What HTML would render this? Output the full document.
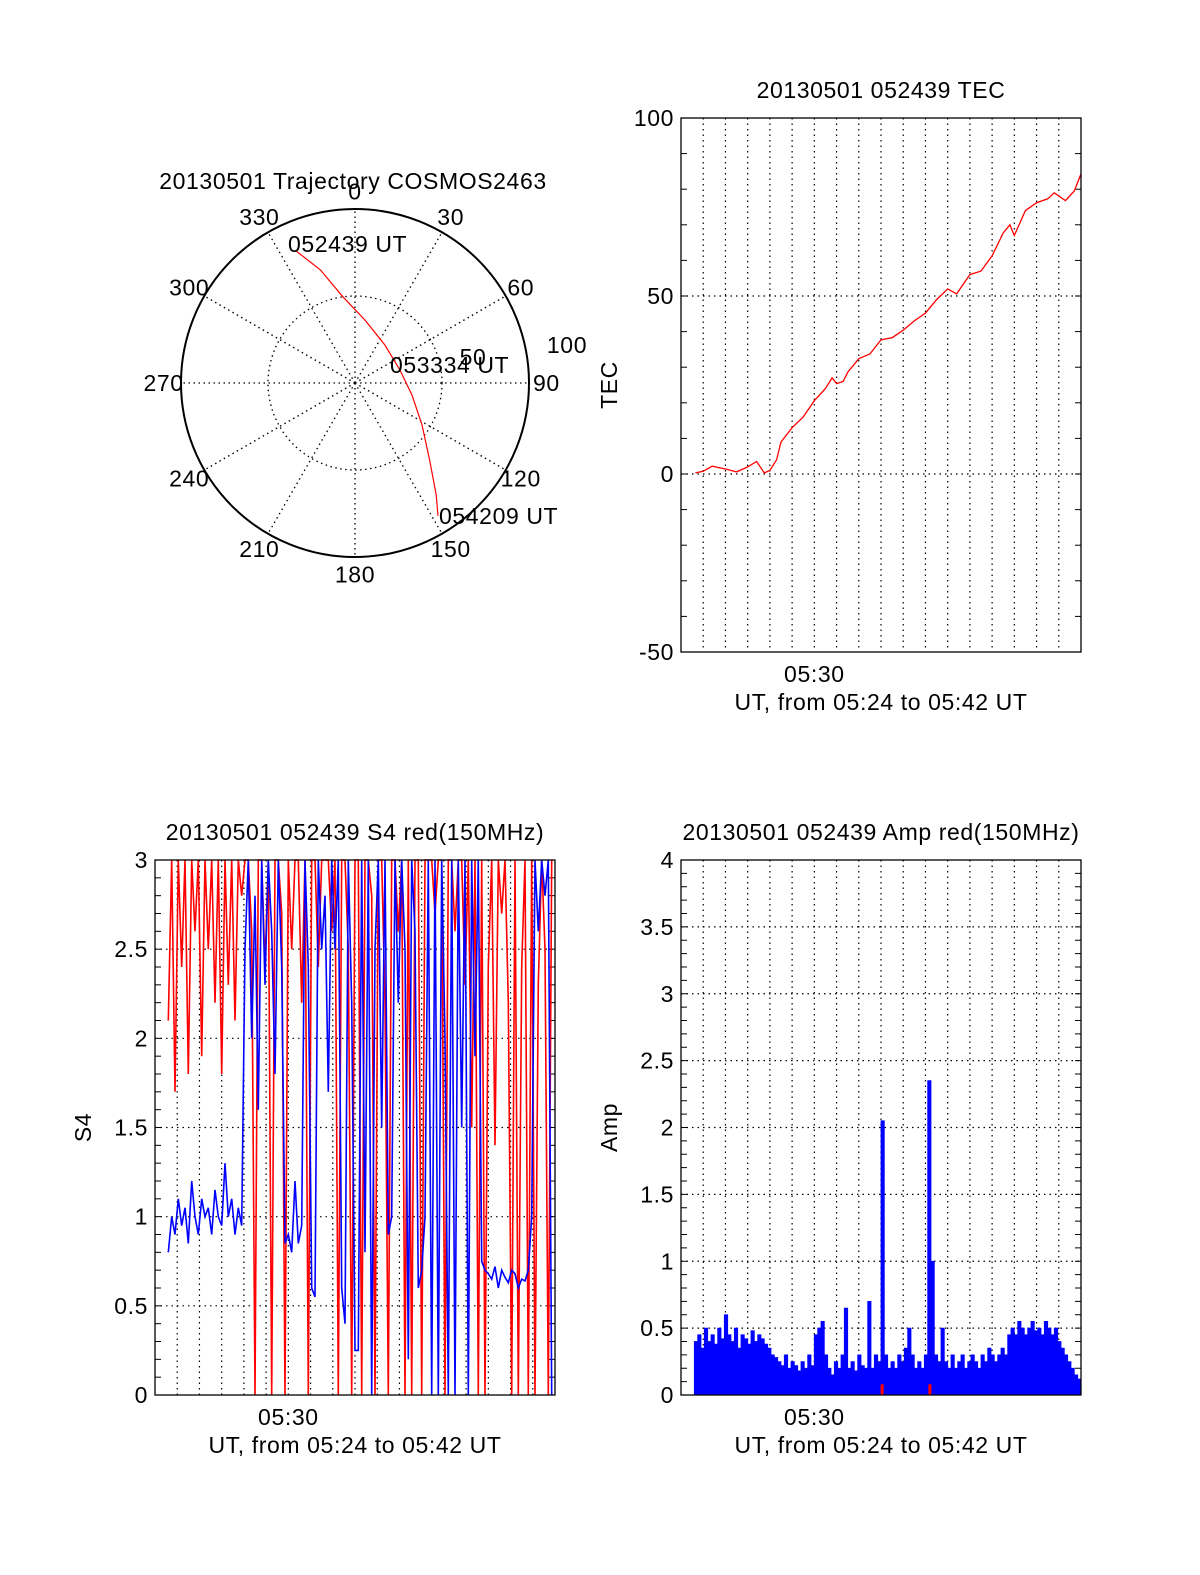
<!DOCTYPE html>
<html><head><meta charset="utf-8">
<style>
html,body{margin:0;padding:0;background:#fff;overflow:hidden;width:1200px;height:1575px}
svg{display:block}
svg text{font-family:"Liberation Sans",sans-serif;font-size:23px;letter-spacing:0.6px;fill:#000}
</style></head>
<body>
<svg id="root" width="1200" height="1575" viewBox="0 0 1200 1575" xmlns="http://www.w3.org/2000/svg">
<rect width="1200" height="1575" fill="#fff"/>
<g id="polar"></g>
<g id="tec"></g>
<g id="s4"></g>
<g id="amp"></g>
</svg>
<script>
// ---- data ----
const trajAz = [336,343,352,9,38,74,102,122,136,144,148];
const trajR  = [83,68,50,36.6,27.8,26.9,33.5,45.4,61.8,79.4,90];
const polarAngleLabels = [0,30,60,90,120,150,180,210,240,270,300,330];

const tecTimes = [0.65,1.0,1.4,2.0,2.5,3.0,3.4,3.75,4.0,4.3,4.5,5.0,5.5,6.0,6.5,6.8,7.0,7.3,7.5,8.0,8.5,9.0,9.5,10.0,10.5,11.0,11.5,12.0,12.4,13.0,13.5,14.0,14.5,14.8,15.0,15.5,16.0,16.5,16.8,17.3,17.7,18.0];
const tecValues = [0.3,0.8,2.2,1.4,0.6,2.0,3.5,0.3,1.0,4.0,9.0,13.0,16.0,20.6,24.0,27.0,25.4,26.0,28.6,32.4,33.7,37.7,38.3,40.4,43.0,45.2,49.0,52.0,50.6,56.0,57.0,61.3,67.7,70.0,67.0,74.0,76.2,77.3,79.0,76.8,79.5,84.3];
const tecTicks = [100,50,0,-50];

const sampleStart = 0.6, sampleStep = 0.15;
const s4Red = [2.1,3,1.7,3,2.4,3,1.8,3,2.6,3,1.9,3,2.5,3,2.2,3,1.8,3,2.3,3,2.1,3,
 2.8,3,3,2.6,0,3,3,2.4,3,0,3,3,2.7,0,3,2.5,3,3,2.2,3,0,3,3,2.4,3,3,3,2.6,3,0,3,3,2.5,0,3,3,0,3,3,2.8,0,3,3,2.2,0,3,3,2.6,3,0,3,0,3,3,0,3,3,3,2.7,3,3,0,3,3,2.6,3,3,2.3,3,1.5,3,0,3,0,2.4,3,1.4,3,2.7,3,2.2,0,3,0,2.4,3,0,3,0,2.3,3,2.5,0,3];
const s4Blue = [0.8,1.0,0.9,1.1,0.95,1.05,0.85,1.2,1.0,0.9,1.1,1.0,1.05,0.9,1.15,1.0,0.95,1.3,1.0,1.1,0.9,1.05,0.95,
 2.5,3,2.0,2.8,1.6,3,2.3,3,2.6,1.8,3,2.4,
 0.85,0.9,0.8,1.2,0.85,0.95,
 3,2.4,0.6,0.55,3,2.5,
 2.8,1.7,3,2.5,3,0.6,0.4,3,2.2,
 0.25,0.25,3,0.8,3,0,2.5,3,1.5,3,0.9,1.0,3,2.2,3,2.5,0.2,3,2.6,0.6,0.7,1.0,3,0,3,0,3,2,0,3,0,3,1.5,3,0,3,1.9,3,
 0.75,0.7,0.68,0.65,0.72,0.6,0.7,0.66,0.63,0.7,0.68,0.6,0.65,0.64,0.7,
 1.0,3,2.6,3,2.8,3,0];
const s4Ticks = [0,0.5,1,1.5,2,2.5,3];

const ampValues = [0.4,0.45,0.35,0.5,0.4,0.45,0.38,0.5,0.42,0.6,
 0.45,0.4,0.5,0.35,0.45,0.42,0.38,0.48,0.4,0.45,
 0.42,0.38,0.35,0.3,0.28,0.25,0.22,0.3,0.2,0.25,
 0.22,0.18,0.25,0.2,0.3,0.22,0.45,
 0.5,0.55,0.3,
 0.2,0.15,0.25,0.2,0.3,0.65,
 0.2,0.25,0.18,0.3,0.22,0.2,
 0.7,0.2,
 0.3,0.25,2.05,0.3,0.2,0.25,0.2,0.3,0.25,0.35,0.5,0.3,0.2,0.25,0.2,0.3,2.35,1.0,0.3,0.25,0.5,0.25,0.2,0.3,0.2,0.25,0.3,0.2,0.25,0.3,0.25,0.2,0.3,0.25,0.35,0.3,0.25,0.3,0.35,0.3,
 0.45,0.5,0.45,0.55,0.5,0.45,0.5,0.55,0.48,0.5,0.45,0.55,0.5,0.45,0.5,
 0.4,0.35,0.3,0.25,0.2,0.15,0.12];
const ampRedTimes = [9.05,11.2];
const ampTicks = [0,0.5,1,1.5,2,2.5,3,3.5,4];

// ---- helpers ----
const NS="http://www.w3.org/2000/svg";
function mk(parent,tag,attrs,text){const e=document.createElementNS(NS,tag);for(const k in attrs)e.setAttribute(k,attrs[k]);if(text!==undefined)e.textContent=text;parent.appendChild(e);return e;}

function axesFrame(g,x0,y0,x1,y1,ymin,ymax,ticks,minorStep,fmt,title,ylab){
  const sx=t=>x0+(t/18)*(x1-x0);
  const sy=v=>y1-(v-ymin)/(ymax-ymin)*(y1-y0);
  for(let m=1;m<18;m++){
    const l=mk(g,'line',{x1:sx(m),x2:sx(m),y1:y0,y2:y1,stroke:'#000','stroke-width':1.2,'stroke-dasharray':'1.5,4'});
    
    
  }
  ticks.forEach(v=>{
    if(v!==ymin&&v!==ymax){
      const l=mk(g,'line',{x1:x0,x2:x1,y1:sy(v),y2:sy(v),stroke:'#000','stroke-width':1.2,'stroke-dasharray':'1.5,4'});
      
      
    }
    const t=mk(g,'text',{x:x0-7,y:sy(v)+8,'text-anchor':'end'},fmt(v));
    
    
  });
  for(let v=ymin;v<=ymax+1e-9;v+=minorStep){
    mk(g,'line',{x1:x0,x2:x0+6,y1:sy(v),y2:sy(v),stroke:'#000','stroke-width':1});
    mk(g,'line',{x1:x1,x2:x1-6,y1:sy(v),y2:sy(v),stroke:'#000','stroke-width':1});
  }
  const tl=mk(g,'text',{x:sx(6),y:y1+30,'text-anchor':'middle'},'05:30');
  
  
  const xl=mk(g,'text',{x:(x0+x1)/2,y:y1+58,'text-anchor':'middle'},'UT, from 05:24 to 05:42 UT');
  
  
  const tt=mk(g,'text',{x:(x0+x1)/2,y:y0-20,'text-anchor':'middle'},title);
  
  
  const yl=mk(g,'text',{x:0,y:0,'text-anchor':'middle',transform:`translate(${x0-64},${(y0+y1)/2}) rotate(-90)`},ylab);
  
  
  return {sx,sy,frame:()=>{const r=mk(g,'rect',{x:x0,y:y0,width:x1-x0,height:y1-y0,fill:'none',stroke:'#000','stroke-width':1.3});}};
}

// ---- polar ----
(function(){
  const g=document.getElementById('polar');
  const cx=355,cy=383,R=174;
  const pr=r=>r/100*R;
  const pt=(az,r)=>[cx+pr(r)*Math.sin(az*Math.PI/180),cy-pr(r)*Math.cos(az*Math.PI/180)];
  polarAngleLabels.forEach(a=>{
    const [x,y]=pt(a,100);
    const l=mk(g,'line',{x1:cx,y1:cy,x2:x,y2:y,stroke:'#000','stroke-width':1.3,'stroke-dasharray':'1.5,3.5'});
    
    
    const [lx,ly]=pt(a,110);
    const t=mk(g,'text',{x:lx,y:ly+8,'text-anchor':'middle'},String(a));
    
    
  });
  const ic=mk(g,'circle',{cx,cy,r:pr(50),fill:'none',stroke:'#000','stroke-width':1.3,'stroke-dasharray':'1.5,3.5'});
  
  
  const oc=mk(g,'circle',{cx,cy,r:R,fill:'none',stroke:'#000','stroke-width':2});
  
  
  const r50=mk(g,'text',{x:473,y:365,'text-anchor':'middle'},'50');
  
  
  const r100=mk(g,'text',{x:567,y:353,'text-anchor':'middle'},'100');
  
  
  const d=trajAz.map((a,i)=>{const p=pt(a,trajR[i]);return (i?'L':'M')+p[0].toFixed(1)+','+p[1].toFixed(1);}).join(' ');
  const tr=mk(g,'path',{d,fill:'none',stroke:'#f00','stroke-width':1.2});
  
  
  const labs=[[288,252,'052439 UT'],[390,373,'053334 UT'],[439,524,'054209 UT']];
  labs.forEach(l=>{const t=mk(g,'text',{x:l[0],y:l[1]},l[2]);});
  const ti=mk(g,'text',{x:353,y:189,'text-anchor':'middle'},'20130501 Trajectory COSMOS2463');
  
  
})();

// ---- TEC ----
(function(){
  const g=document.getElementById('tec');
  const a=axesFrame(g,681,118,1081,652,-50,100,tecTicks,10,v=>String(v),'20130501 052439 TEC','TEC');
  const d=tecTimes.map((t,i)=>(i?'L':'M')+a.sx(t).toFixed(1)+','+a.sy(tecValues[i]).toFixed(1)).join(' ');
  const p=mk(g,'path',{d,fill:'none',stroke:'#f00','stroke-width':1.3});
  
  
  a.frame();
})();

// ---- S4 ----
(function(){
  const g=document.getElementById('s4');
  const a=axesFrame(g,155,860,555,1395,0,3,s4Ticks,0.1,v=>String(v),'20130501 052439 S4 red(150MHz)','S4');
  [[s4Red,'#f00','s4-red-line'],[s4Blue,'#00f','s4-blue-line']].forEach(([arr,c,n])=>{
    const d=arr.map((v,i)=>(i?'L':'M')+a.sx(sampleStart+sampleStep*i).toFixed(1)+','+a.sy(v).toFixed(1)).join(' ');
    const p=mk(g,'path',{d,fill:'none',stroke:c,'stroke-width':1.6});
    
    
  });
  a.frame();
})();

// ---- Amp ----
(function(){
  const g=document.getElementById('amp');
  const a=axesFrame(g,681,860,1081,1395,0,4,ampTicks,0.1,v=>String(v),'20130501 052439 Amp red(150MHz)','Amp');
  let d='M'+a.sx(sampleStart).toFixed(1)+','+a.sy(0);
  ampValues.forEach((v,i)=>{
    const xa=a.sx(sampleStart+sampleStep*i),xb=a.sx(sampleStart+sampleStep*(i+1));
    d+=' L'+xa.toFixed(1)+','+a.sy(v).toFixed(1)+' L'+xb.toFixed(1)+','+a.sy(v).toFixed(1);
  });
  d+=' L'+a.sx(sampleStart+sampleStep*ampValues.length).toFixed(1)+','+a.sy(0)+' Z';
  const p=mk(g,'path',{d,fill:'#00f',stroke:'#00f','stroke-width':0.8});
  
  
  ampRedTimes.forEach(t=>{
    const r=mk(g,'rect',{x:a.sx(t)-1.5,y:a.sy(0.08),width:3,height:a.sy(0)-a.sy(0.08),fill:'#f00'});
    
    
  });
  a.frame();
})();
</script>
</body></html>
